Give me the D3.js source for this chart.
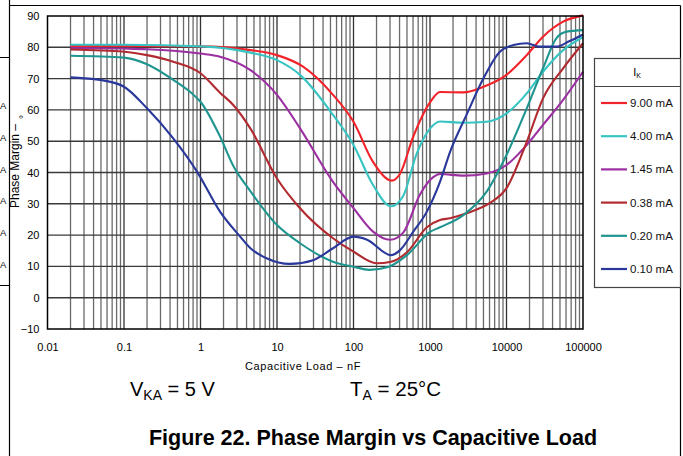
<!DOCTYPE html>
<html>
<head>
<meta charset="utf-8">
<script src="https://cdn.jsdelivr.net/npm/d3@7"></script>
<style>
  html, body { margin: 0; padding: 0; background: #fff; }
  svg { display: block; font-family: "Liberation Sans", Arial, sans-serif; }
</style>
</head>
<body>
<svg id="chart" width="683" height="456"></svg>
<script>
// ---------------- data ----------------
const seriesNames = ["9.00 mA", "4.00 mA", "1.45 mA", "0.38 mA", "0.20 mA", "0.10 mA"];
const seriesColors = ["#f2222a", "#37c4c2", "#9c2fa2", "#b02a30", "#1f958f", "#29389a"];

const capRed    = [0.02, 0.1, 1, 4.5, 10, 21.9, 54, 100, 180, 316, 406, 605, 1000, 1350, 2730, 5000, 10000, 18400, 30000, 55000, 100000];
const pmRed     = [80.4, 80.4, 80.3, 79.1, 77.5, 73.8, 64.8, 56.2, 43.4, 37.4, 39.6, 51.5, 62.4, 65.7, 65.6, 67.4, 71.2, 77.5, 83.4, 88.2, 90.2];

const capCyan   = [0.02, 0.1, 1, 4.5, 10, 20, 54, 100, 180, 310, 446, 670, 1000, 1350, 2730, 5500, 10000, 18400, 30000, 55000, 100000];
const pmCyan    = [80.8, 80.8, 80.3, 78.3, 75.9, 71.2, 58.4, 48.8, 36.0, 29.2, 32.5, 46.0, 54.0, 56.3, 55.9, 56.2, 58.9, 65.3, 72.2, 79.1, 83.3];

const capPurple = [0.02, 0.1, 0.2, 1, 1.8, 4.5, 10, 20, 54, 100, 180, 300, 446, 740, 1100, 1350, 2730, 5500, 10000, 18400, 30000, 55000, 100000];
const pmPurple  = [79.8, 79.6, 79.4, 78.0, 77.0, 72.7, 64.8, 54.1, 37.0, 28.6, 21.1, 18.5, 20.8, 33.0, 38.5, 39.5, 39.0, 39.7, 42.4, 48.8, 55.2, 63.2, 72.2];

const capDkRed  = [0.02, 0.1, 0.2, 0.44, 1, 1.8, 2.7, 4.5, 10, 20, 54, 100, 200, 310, 500, 910, 1350, 1830, 3000, 6000, 10000, 18400, 30000, 55000, 100000];
const pmDkRed   = [79.3, 78.6, 77.5, 75.4, 71.7, 65.5, 61.5, 54.0, 38.1, 28.6, 19.0, 14.7, 11.0, 11.5, 14.5, 22.5, 24.8, 25.4, 27.0, 30.2, 35.0, 49.8, 63.7, 73.3, 81.3];

const capTeal   = [0.02, 0.1, 0.2, 0.44, 0.77, 1, 1.8, 2.7, 4.5, 10, 20, 54, 100, 160, 290, 500, 1000, 1350, 2730, 5500, 10000, 18400, 30000, 45000, 61000, 100000];
const pmTeal    = [77.3, 76.7, 74.6, 69.6, 65.3, 62.6, 51.5, 42.0, 34.0, 23.2, 17.4, 11.5, 9.9, 8.9, 9.9, 13.6, 21.0, 22.5, 26.4, 33.9, 45.6, 60.5, 73.3, 82.9, 85.0, 85.5];

const capBlue   = [0.02, 0.06, 0.1, 0.2, 0.44, 0.9, 1.8, 3.3, 4.5, 7.3, 14.8, 29.6, 54, 100, 148, 310, 406, 605, 910, 1350, 1830, 3000, 5000, 8200, 12300, 18400, 27000, 45000, 67000, 100000];
const pmBlue    = [70.4, 69.2, 67.4, 60.5, 50.9, 40.3, 27.5, 19.5, 15.8, 12.6, 10.8, 12.0, 15.8, 19.5, 18.6, 13.6, 15.2, 21.1, 27.5, 37.0, 46.6, 58.4, 70.1, 78.6, 80.7, 81.3, 80.2, 80.2, 82.0, 84.1];

const seriesCaps = [capRed, capCyan, capPurple, capDkRed, capTeal, capBlue];
const seriesPMs  = [pmRed, pmCyan, pmPurple, pmDkRed, pmTeal, pmBlue];

const xTickValues = [0.01, 0.1, 1, 10, 100, 1000, 10000, 100000];
const xTickLabels = ["0.01", "0.1", "1", "10", "100", "1000", "10000", "100000"];
const yTickValues = [-10, 0, 10, 20, 30, 40, 50, 60, 70, 80, 90];
const yTickLabels = ["\u221210", "0", "10", "20", "30", "40", "50", "60", "70", "80", "90"];

// ---------------- layout ----------------
const svg = d3.select("#chart");
const x = d3.scaleLog().domain([0.01, 100000]).range([47.5, 583]);
const y = d3.scaleLinear().domain([-10, 90]).range([329, 16]);

// page frame
svg.append("line").attr("x1", 9.5).attr("x2", 9.5).attr("y1", 0).attr("y2", 456).attr("stroke", "#000").attr("stroke-width", 1.2);
svg.append("line").attr("x1", 9.5).attr("x2", 680.5).attr("y1", 5.5).attr("y2", 5.5).attr("stroke", "#000").attr("stroke-width", 1.2);
svg.append("line").attr("x1", 680.5).attr("x2", 680.5).attr("y1", 5.5).attr("y2", 456).attr("stroke", "#000").attr("stroke-width", 1.2);
svg.append("line").attr("x1", 0).attr("x2", 9.5).attr("y1", 57.5).attr("y2", 57.5).attr("stroke", "#000").attr("stroke-width", 1);
svg.append("line").attr("x1", 0).attr("x2", 9.5).attr("y1", 285.5).attr("y2", 285.5).attr("stroke", "#000").attr("stroke-width", 1);
// remnants of the neighbouring figure's legend at the page edge
[105, 137, 169, 200, 232, 264].forEach(cy => {
  svg.append("text").attr("x", 0).attr("y", cy + 3.5)
    .attr("font-size", 9.5).attr("fill", "#111").text("A");
});

// grid
const minor = [];
for (let e = -2; e < 5; e++) {
  for (let m = 1; m <= 9; m++) {
    const v = m * Math.pow(10, e);
    if (v > 0.011 && v < 99999) minor.push(v);
  }
}
const g = svg.append("g");
g.selectAll("line.vg").data(minor).join("line")
  .attr("x1", d => x(d)).attr("x2", d => x(d))
  .attr("y1", y(90)).attr("y2", y(-10))
  .attr("stroke", d => (Math.abs(Math.log10(d) - Math.round(Math.log10(d))) < 1e-9) ? "#333" : "#6a6a6a")
  .attr("stroke-width", 1.3);
g.selectAll("line.hg").data(yTickValues.slice(1, -1)).join("line")
  .attr("x1", x(0.01)).attr("x2", x(100000))
  .attr("y1", d => y(d)).attr("y2", d => y(d))
  .attr("stroke", "#3a3a3a").attr("stroke-width", 1.4);

// curves
const line = d3.line().x(d => x(d[0])).y(d => y(d[1])).curve(d3.curveMonotoneX);
seriesNames.forEach((n, i) => {
  const pts = seriesCaps[i].map((c, k) => [c, seriesPMs[i][k]]);
  svg.append("path").datum(pts).attr("d", line)
    .attr("fill", "none").attr("stroke", seriesColors[i]).attr("stroke-width", 2.1)
    .attr("stroke-linejoin", "round");
});

// border
svg.append("rect").attr("x", x(0.01)).attr("y", y(90)).attr("width", x(100000) - x(0.01)).attr("height", y(-10) - y(90))
  .attr("fill", "none").attr("stroke", "#000").attr("stroke-width", 1.5);

// axes (labels only, no tick marks)
const xAxis = svg.append("g").attr("transform", `translate(0,${y(-10)})`)
  .call(d3.axisBottom(x).tickValues(xTickValues).tickFormat((d, i) => xTickLabels[i]).tickSize(0).tickPadding(14));
xAxis.select(".domain").remove();
xAxis.selectAll("text").attr("font-size", 11).attr("fill", "#000").attr("font-family", "Liberation Sans, Arial, sans-serif");

const yAxis = svg.append("g").attr("transform", `translate(${x(0.01)},0)`)
  .call(d3.axisLeft(y).tickValues(yTickValues).tickFormat((d, i) => yTickLabels[i]).tickSize(0).tickPadding(8));
yAxis.select(".domain").remove();
yAxis.selectAll("text").attr("font-size", 11).attr("fill", "#000").attr("font-family", "Liberation Sans, Arial, sans-serif");

// axis titles
svg.append("text").attr("x", 303).attr("y", 370).attr("text-anchor", "middle")
  .attr("font-size", 11).attr("letter-spacing", 0.6).text("Capacitive Load \u2013 nF");
const yt = svg.append("text").attr("transform", "translate(19,208) rotate(-90)")
  .attr("font-size", 12);
yt.append("tspan").text("Phase Margin \u2013");
yt.append("tspan").attr("dx", 5).attr("dy", 8).attr("font-size", 10).text("\u00b0");

// conditions
const vka = svg.append("text").attr("x", 130).attr("y", 396).attr("font-size", 20);
vka.append("tspan").text("V");
vka.append("tspan").attr("font-size", 14).attr("dy", 4).text("KA");
vka.append("tspan").attr("dy", -4).text(" = 5 V");
const ta = svg.append("text").attr("x", 350).attr("y", 396).attr("font-size", 20.5);
ta.append("tspan").text("T");
ta.append("tspan").attr("font-size", 14).attr("dy", 4).text("A");
ta.append("tspan").attr("dy", -4).text(" = 25\u00b0C");

// figure title
svg.append("text").attr("x", 373).attr("y", 445).attr("text-anchor", "middle")
  .attr("font-size", 21.5).attr("font-weight", "bold").text("Figure 22. Phase Margin vs Capacitive Load");

// legend
const lg = svg.append("g");
lg.append("rect").attr("x", 594.5).attr("y", 58.5).attr("width", 86).attr("height", 229)
  .attr("fill", "#fff").attr("stroke", "#444").attr("stroke-width", 1.2);
lg.append("line").attr("x1", 594.5).attr("x2", 680.5).attr("y1", 86.5).attr("y2", 86.5).attr("stroke", "#444").attr("stroke-width", 1.2);
const hdr = lg.append("text").attr("x", 637).attr("y", 76).attr("text-anchor", "middle").attr("font-size", 11);
hdr.append("tspan").text("I");
hdr.append("tspan").attr("font-size", 7).attr("dy", 2).text("K");
seriesNames.forEach((n, i) => {
  const cy = 103 + i * 33.2;
  lg.append("line").attr("x1", 601).attr("x2", 627).attr("y1", cy).attr("y2", cy)
    .attr("stroke", seriesColors[i]).attr("stroke-width", 2.2);
  lg.append("text").attr("x", 630).attr("y", cy + 4).attr("font-size", 11.5).attr("fill", "#111").text(n);
});
</script>
</body>
</html>
